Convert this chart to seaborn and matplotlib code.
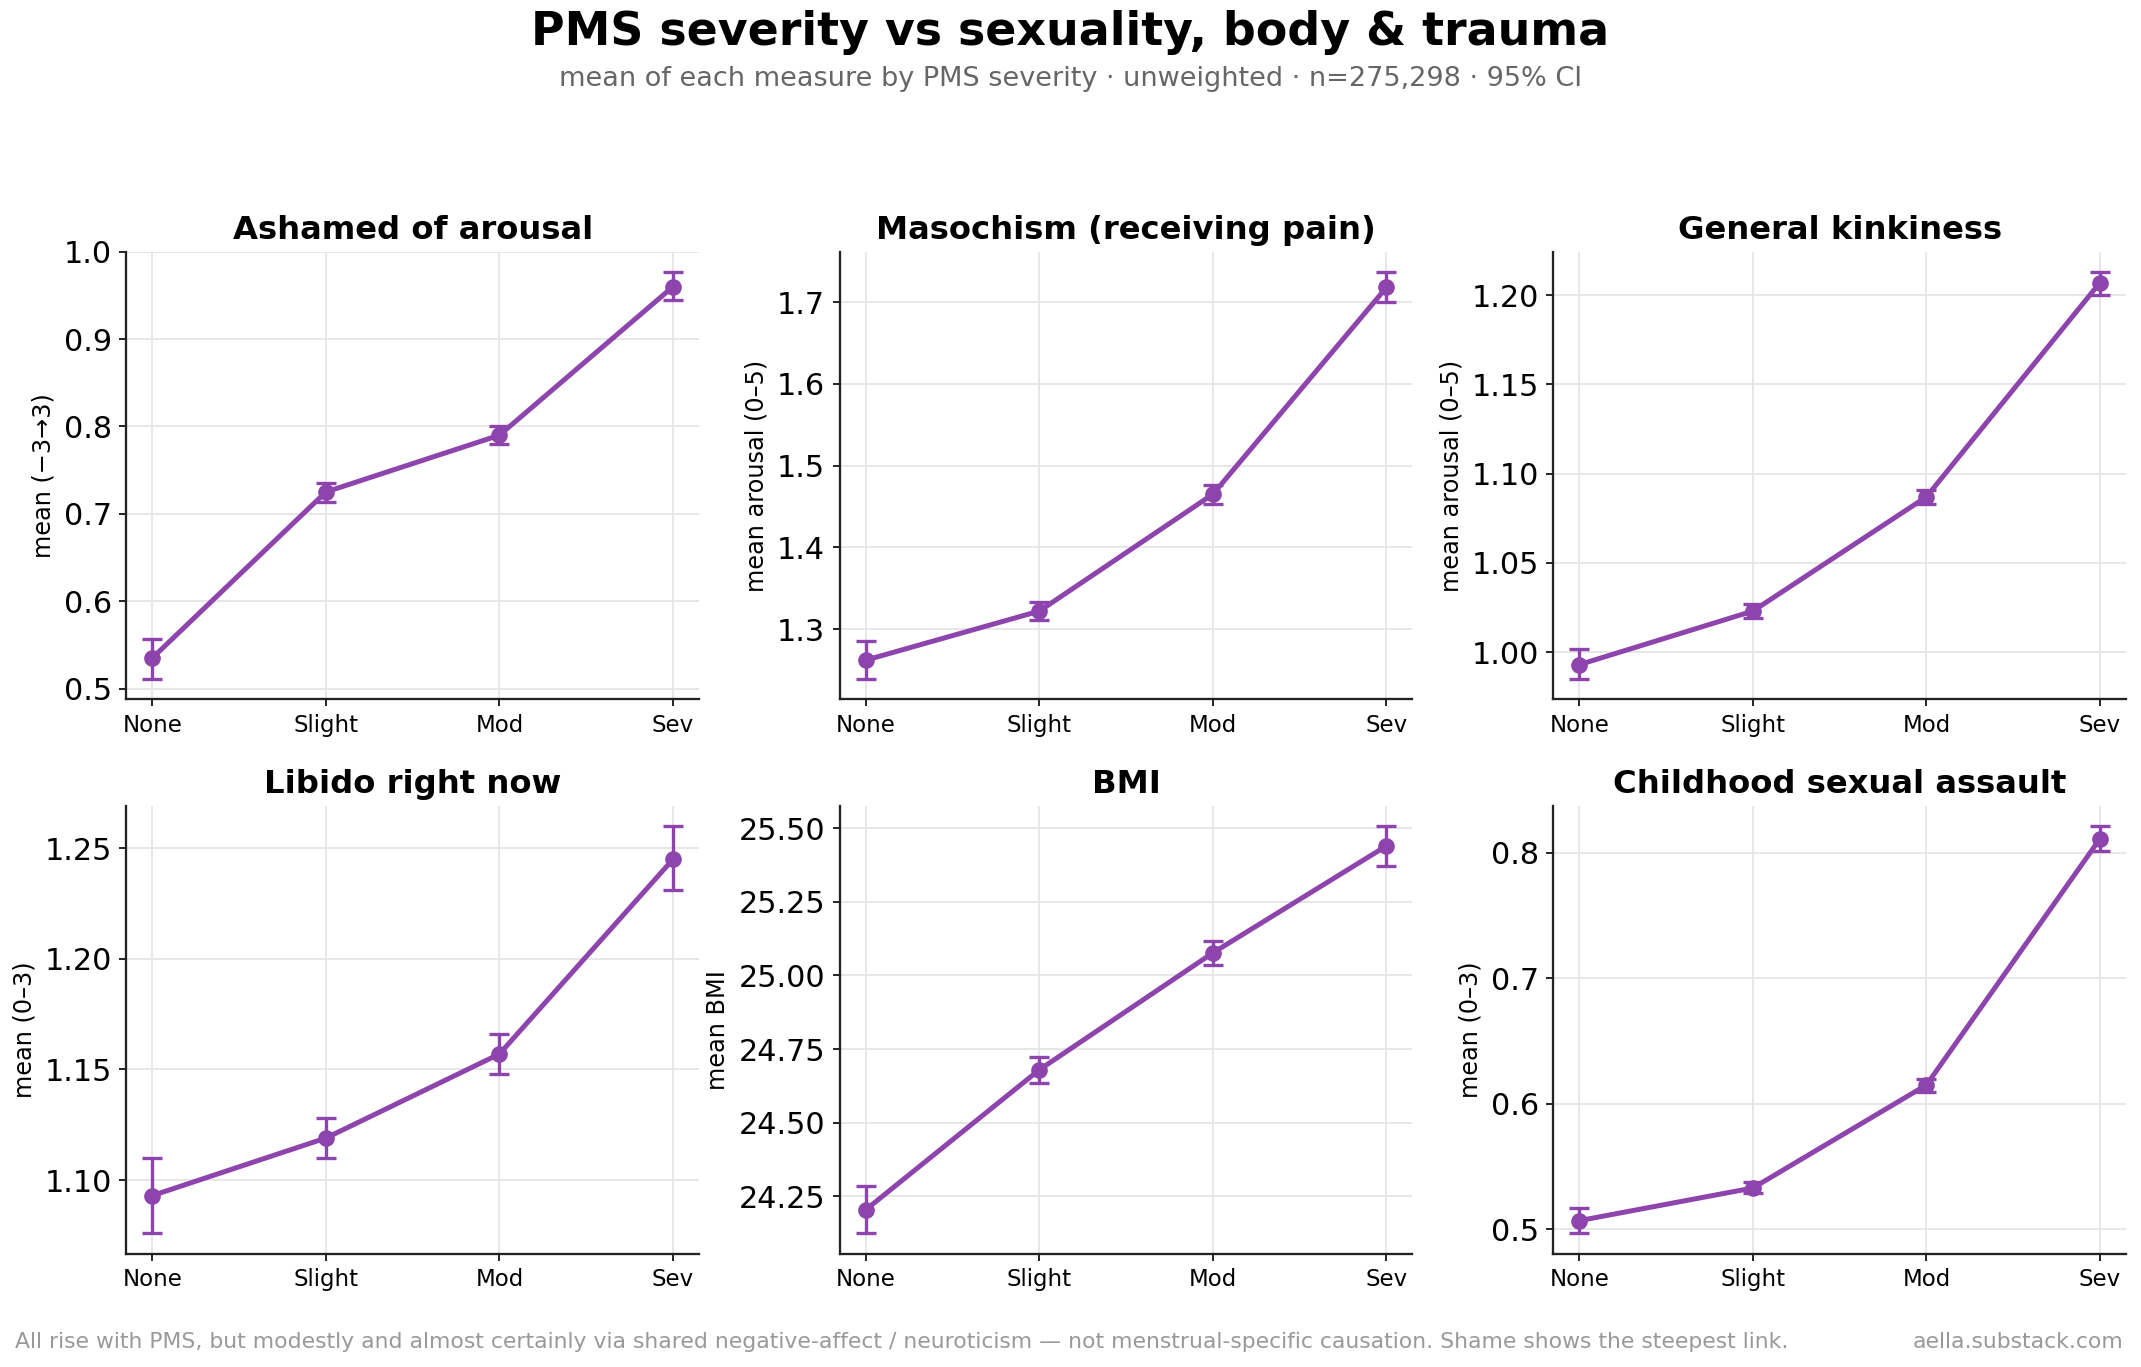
import numpy as np
import pandas as pd
import matplotlib.pyplot as plt
from matplotlib.ticker import MultipleLocator
import seaborn as sns

# PMS severity levels
levels = ['None', 'Slight', 'Mod', 'Sev']

titles = ['Ashamed of arousal', 'Masochism (receiving pain)', 'General kinkiness',
          'Libido right now', 'BMI', 'Childhood sexual assault']
ylabels = ['mean (\u22123\u21923)', 'mean arousal (0\u20135)', 'mean arousal (0\u20135)',
           'mean (0\u20133)', 'mean BMI', 'mean (0\u20133)']

# means and 95% CI bounds
ashamed_mean = [0.535, 0.725, 0.790, 0.960]
ashamed_lo = [0.511, 0.714, 0.780, 0.945]
ashamed_hi = [0.557, 0.735, 0.800, 0.977]

maso_mean = [1.262, 1.322, 1.465, 1.718]
maso_lo = [1.239, 1.311, 1.453, 1.700]
maso_hi = [1.285, 1.333, 1.476, 1.737]

kink_mean = [0.993, 1.023, 1.087, 1.207]
kink_lo = [0.985, 1.019, 1.083, 1.200]
kink_hi = [1.002, 1.027, 1.091, 1.213]

libido_mean = [1.093, 1.119, 1.157, 1.245]
libido_lo = [1.076, 1.110, 1.148, 1.231]
libido_hi = [1.110, 1.128, 1.166, 1.260]

bmi_mean = [24.205, 24.680, 25.077, 25.440]
bmi_lo = [24.125, 24.636, 25.037, 25.373]
bmi_hi = [24.285, 24.724, 25.117, 25.507]

csa_mean = [0.507, 0.533, 0.615, 0.811]
csa_lo = [0.497, 0.529, 0.609, 0.801]
csa_hi = [0.517, 0.538, 0.620, 0.821]

means = [ashamed_mean, maso_mean, kink_mean, libido_mean, bmi_mean, csa_mean]
los = [ashamed_lo, maso_lo, kink_lo, libido_lo, bmi_lo, csa_lo]
his = [ashamed_hi, maso_hi, kink_hi, libido_hi, bmi_hi, csa_hi]

# y tick spacing per panel
ysteps = [0.1, 0.1, 0.05, 0.05, 0.25, 0.1]

color = '#8e44ad'

sns.set_style("ticks")
plt.rcParams['font.family'] = ['DejaVu Sans']
plt.rcParams['text.color'] = 'black'
plt.rcParams['axes.labelcolor'] = 'black'
plt.rcParams['xtick.color'] = 'black'
plt.rcParams['ytick.color'] = 'black'

fig, axes = plt.subplots(2, 3, figsize=(2141 / 150, 1367 / 150), dpi=150)
fig.subplots_adjust(left=0.059, right=0.993, top=0.816, bottom=0.083,
                    wspace=0.246, hspace=0.238)

for ax, title, ylab, m, lo, hi, step in zip(axes.flat, titles, ylabels, means, los, his, ysteps):
    x = np.arange(len(levels))
    df = pd.DataFrame({'x': x, 'mean': m})
    m = np.array(m)
    err = [m - np.array(lo), np.array(hi) - m]
    ax.errorbar(x, m, yerr=err, fmt='none', ecolor=color, elinewidth=1.6,
                capsize=5, capthick=1.6, zorder=3)
    sns.lineplot(data=df, x='x', y='mean', ax=ax, color=color, linewidth=2.4,
                 marker='o', markersize=8, markeredgewidth=0, zorder=4)
    ax.set_xticks(x)
    ax.set_xticklabels(levels, fontsize=11)
    ax.yaxis.set_major_locator(MultipleLocator(step))
    ax.tick_params(axis='y', labelsize=14.5)
    ax.set_xlabel('')
    ax.set_ylabel(ylab, fontsize=11.5)
    ax.set_title(title, fontsize=15.5, fontweight='bold', color='black')
    ax.grid(True, color='#e6e6e6', linewidth=0.9)
    ax.set_axisbelow(True)
    sns.despine(ax=ax)
    for s in ['left', 'bottom']:
        ax.spines[s].set_color('#222222')
        ax.spines[s].set_linewidth(1.1)

fig.text(0.5, 0.976, 'PMS severity vs sexuality, body & trauma', ha='center', va='center',
         fontsize=22, fontweight='bold')
fig.text(0.5, 0.942, 'mean of each measure by PMS severity \u00b7 unweighted \u00b7 n=275,298 \u00b7 95% CI',
         ha='center', va='center', fontsize=13, color='#666666')
fig.text(0.007, 0.018, 'All rise with PMS, but modestly and almost certainly via shared negative-affect / '
         'neuroticism \u2014 not menstrual-specific causation. Shame shows the steepest link.',
         ha='left', va='center', fontsize=10.5, color='#999999')
fig.text(0.992, 0.018, 'aella.substack.com', ha='right', va='center', fontsize=10.5, color='#999999')

fig.savefig('out.png', dpi=150)
